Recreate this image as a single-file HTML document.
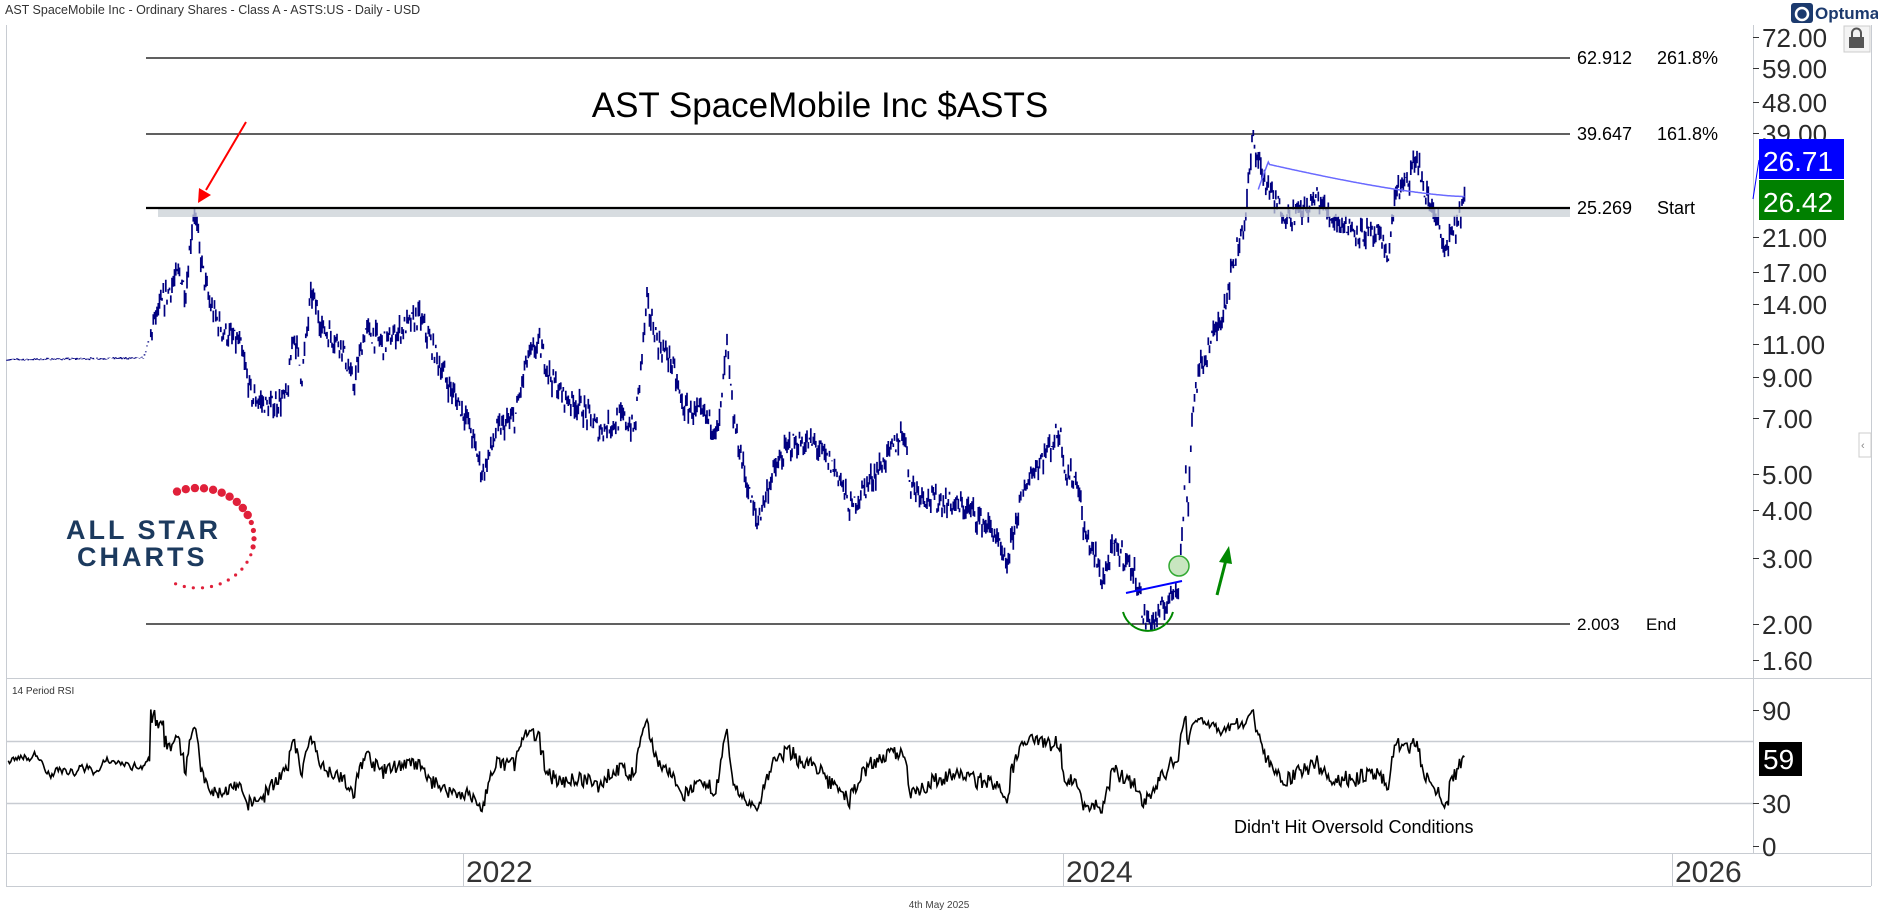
<!DOCTYPE html>
<html><head><meta charset="utf-8"><style>
body{margin:0;background:#fff;width:1878px;height:924px;overflow:hidden;font-family:"Liberation Sans",sans-serif}
svg{position:absolute;left:0;top:0}
</style></head><body>
<svg id="s" width="1878" height="924" xmlns="http://www.w3.org/2000/svg" font-family="Liberation Sans, sans-serif">
<rect x="0" y="0" width="1878" height="924" fill="#fff"/>
<text x="5" y="14" font-size="12.5" fill="#333">AST SpaceMobile Inc - Ordinary Shares - Class A - ASTS:US - Daily - USD</text>
<line x1="6.5" y1="25" x2="6.5" y2="886" stroke="#c8ccd2"/>
<line x1="1753.5" y1="25" x2="1753.5" y2="853" stroke="#c8ccd2"/>
<line x1="1871.5" y1="25" x2="1871.5" y2="886" stroke="#c8ccd2"/>
<line x1="6" y1="678.5" x2="1871" y2="678.5" stroke="#c8ccd2"/>
<line x1="6" y1="853.5" x2="1871" y2="853.5" stroke="#c8ccd2"/>
<line x1="6" y1="886.5" x2="1871" y2="886.5" stroke="#c8ccd2"/>
<line x1="6" y1="741.5" x2="1753" y2="741.5" stroke="#c8ccd2" stroke-width="1.5"/>
<line x1="6" y1="803.5" x2="1753" y2="803.5" stroke="#c8ccd2" stroke-width="1.5"/>
<line x1="463.5" y1="853" x2="463.5" y2="886" stroke="#c8ccd2"/>
<line x1="1063.5" y1="853" x2="1063.5" y2="886" stroke="#c8ccd2"/>
<line x1="1672.5" y1="853" x2="1672.5" y2="886" stroke="#c8ccd2"/>
<g font-size="30" fill="#333"><text x="466" y="882">2022</text><text x="1066" y="882">2024</text><text x="1675" y="882">2026</text></g>
<text x="939" y="908" font-size="10" fill="#444" text-anchor="middle">4th May 2025</text>
<g stroke="#000" stroke-width="1.3">
<line x1="146" y1="58" x2="1570" y2="58"/><line x1="146" y1="134" x2="1570" y2="134"/>
<line x1="146" y1="624" x2="1570" y2="624"/></g>
<g font-size="18" fill="#000">
<text x="1577" y="64">62.912</text><text x="1657" y="64">261.8%</text>
<text x="1577" y="140">39.647</text><text x="1657" y="140">161.8%</text>
<text x="1577" y="214">25.269</text><text x="1657" y="214">Start</text>
<text x="1577" y="630" font-size="17">2.003</text><text x="1646" y="630" font-size="17">End</text></g>
<text x="820" y="117" font-size="35" text-anchor="middle" fill="#000">AST SpaceMobile Inc $ASTS</text>
<g id="bars" stroke="#000080" stroke-width="1.7" fill="none"></g>
<polyline id="ma" fill="none" stroke="#6a6aff" stroke-width="1.5"/>
<rect x="158" y="207" width="1412" height="10" fill="#c9d0d6" opacity="0.75"/>
<line x1="146" y1="208" x2="1570" y2="208" stroke="#000" stroke-width="2.2"/>
<polyline id="rsi" fill="none" stroke="#000" stroke-width="1.6"/>
<g id="ax" font-size="26" fill="#2a2a2a" stroke="none"></g>
<rect x="1759" y="139" width="85" height="40" fill="#0000ff"/><text x="1763" y="171" font-size="28" fill="#fff">26.71</text>
<rect x="1759" y="180" width="85" height="40" fill="#008000"/><text x="1763" y="212" font-size="28" fill="#fff">26.42</text>
<line x1="1753" y1="199" x2="1759" y2="160" stroke="#00f"/>
<rect x="1759" y="742" width="43" height="34" fill="#000"/><text x="1763" y="769" font-size="28" fill="#fff">59</text>
<text x="12" y="694" font-size="10" fill="#333">14 Period RSI</text>
<text x="1234" y="833" font-size="18" fill="#000">Didn't Hit Oversold Conditions</text>
<line x1="246" y1="122" x2="206" y2="190" stroke="#f00" stroke-width="2"/>
<polygon points="198,203 199,188 211,195" fill="#f00"/>
<line x1="1217" y1="595" x2="1226" y2="560" stroke="#080" stroke-width="3"/>
<polygon points="1229,546 1219,562 1232,564" fill="#080"/>
<path d="M1123,612 A26,26 0 0 0 1173,612" fill="none" stroke="#080" stroke-width="2"/>
<circle cx="1179" cy="566" r="10" fill="#c8e6c0" stroke="#3a3" stroke-width="1.5"/>
<line x1="1126" y1="593" x2="1182" y2="581" stroke="#00f" stroke-width="2"/>
<g font-weight="bold" fill="#1c3a5e" font-size="27" letter-spacing="3"><text x="66" y="539">ALL STAR</text><text x="77" y="566">CHARTS</text></g>
<g id="stars" fill="#e0203a"></g>
<rect x="1791" y="3" width="22" height="20" rx="3" fill="#1c3a6e"/><circle cx="1802" cy="14" r="6" fill="none" stroke="#fff" stroke-width="2.5"/>
<text x="1815" y="19" font-size="17" fill="#1c3a6e" font-weight="bold">Optuma</text>
<rect x="1844" y="26" width="26" height="26" fill="#f4f4f4" stroke="#ccc"/><rect x="1849" y="37" width="15" height="11" fill="#555"/><path d="M1852,37 v-4 a4.5,4.5 0 0 1 9,0 v4" fill="none" stroke="#555" stroke-width="2"/>
<rect x="1859" y="433" width="12" height="24" fill="#fff" stroke="#ccc"/><text x="1861" y="449" font-size="11" fill="#888">‹</text>
</svg>
<script>
var ticks=[[72,37],[59,68],[48,102],[39,133],[25.27,208],[21,237],[17,272],[14,304],[11,344],[9,377],[7,418],[5,474],[4,510],[3,558],[2,624],[1.6,660]];
function Y(p){for(var i=0;i<ticks.length-1;i++){var a=ticks[i],b=ticks[i+1];if(p>=b[0]||i==ticks.length-2){var t=(Math.log(a[0])-Math.log(p))/(Math.log(a[0])-Math.log(b[0]));return a[1]+t*(b[1]-a[1]);}}}
var NS="http://www.w3.org/2000/svg";
function el(n,at,par,txt){var e=document.createElementNS(NS,n);for(var k in at)e.setAttribute(k,at[k]);if(txt)e.textContent=txt;par.appendChild(e);return e;}
var ax=document.getElementById('ax');
[["72.00",37],["59.00",68],["48.00",102],["39.00",133],["21.00",237],["17.00",272],["14.00",304],["11.00",344],["9.00",377],["7.00",418],["5.00",474],["4.00",510],["3.00",558],["2.00",624],["1.60",660],["90",710],["30",803],["0",846]].forEach(function(t){
el('line',{x1:1753,y1:t[1]+.5,x2:1759,y2:t[1]+.5,stroke:'#333'},ax);el('text',{x:1762,y:t[1]+10},ax,t[0]);});
var kp=[[5,10],[120,10.1],[130,13],[140,15],[150,17],[155,15],[162,25.3],[168,18],[175,14],[185,12],[200,11],[210,8],[225,7.5],[240,8],[245,12],[252,9],[260,15],[270,12],[285,11],[295,8.5],[305,12],[320,11],[335,12],[350,13],[360,11],[375,8.5],[390,7],[403,5],[415,6.5],[430,7],[440,10],[450,11],[460,9],[470,8],[485,7.5],[500,6.5],[520,7],[530,6.5],[540,14],[550,11],[560,10],[570,7.5],[590,7],[600,6.5],[607,11],[612,7],[625,4.5],[632,3.7],[645,5],[660,6],[680,6],[700,5],[710,4],[720,4.5],[740,5.5],[755,6.5],[760,4.7],[775,4.3],[790,4.2],[810,4],[830,3.5],[840,2.8],[850,4],[860,5],[870,5.5],[885,6.5],[890,5],[900,4.8],[905,3.5],[915,3],[920,2.6],[930,3.2],[940,3],[950,2.6],[955,2.05],[965,2.05],[975,2.3],[984,2.6],[987,3.5],[990,5],[992,4],[995,7],[1000,9],[1010,11],[1020,13],[1030,18],[1040,24],[1046,38],[1055,30],[1065,26],[1075,24],[1090,25],[1100,27],[1110,24],[1130,22],[1150,21],[1160,19],[1165,28],[1175,29],[1183,34],[1190,27],[1200,24],[1205,19],[1215,22],[1222,26.4]];
kp=kp.map(function(p){return [p[0]*1.1977,p[1]]});
var seed=7;function rnd(){seed=(seed*16807)%2147483647;return seed/2147483647;}
var bars=document.getElementById('bars'),d='',closes=[],xs=[];
var j=0;for(var x=7;x<=1465;x+=1.25){while(j<kp.length-2&&kp[j+1][0]<x)j++;var a=kp[j],b=kp[j+1];var t=Math.max(0,Math.min(1,(x-a[0])/(b[0]-a[0])));
var lp=Math.log(a[1])+t*(Math.log(b[1])-Math.log(a[1]));var vol=x<150?0.005:0.06;var c=Math.exp(lp+(rnd()-.5)*vol*2);
var h=c*Math.exp(rnd()*vol),l=c/Math.exp(rnd()*vol);closes.push(c);xs.push(x);
d+='M'+x.toFixed(1)+','+Y(h).toFixed(1)+'V'+Y(l).toFixed(1);}
el('path',{d:d},bars);
var pts=[];for(var i=0;i<xs.length;i++){if(xs[i]<1258)continue;var f=(xs[i]-1258)/(1465-1258);var v=33*Math.pow(1-f,1.5)+27*(1-Math.pow(1-f,1.5));if(f<0.05)v=28+f*100;pts.push(xs[i].toFixed(1)+','+Y(v).toFixed(1));}
document.getElementById('ma').setAttribute('points',pts.join(' '));
var g=0,lo=0,rp=[],n=14,sm=55;for(var i=1;i<closes.length;i++){var ch=Math.log(closes[i]/closes[i-1]);var up=Math.max(ch,0),dn=Math.max(-ch,0);g=(g*(n-1)+up)/n;lo=(lo*(n-1)+dn)/n;var r=lo==0?50:100-100/(1+g/lo);if(xs[i]<150){sm+=(rnd()-.5)*6;sm=Math.max(45,Math.min(75,sm));r=sm;}r=Math.max(22,Math.min(92,r));if(i==closes.length-1)r=59;rp.push(xs[i].toFixed(1)+','+(846-r*136/90).toFixed(1));}
document.getElementById('rsi').setAttribute('points',rp.join(' '));
var st=document.getElementById('stars');for(var k=0;k<=24;k++){var ang=-112+k*9.4;var rad=ang*Math.PI/180;var cx=198+56*Math.cos(rad),cy=538+50*Math.sin(rad);var s=k<10?4.2:(k<14?2.6:1.6);
el('circle',{cx:cx.toFixed(1),cy:cy.toFixed(1),r:s},st);}
</script>
</body></html>
